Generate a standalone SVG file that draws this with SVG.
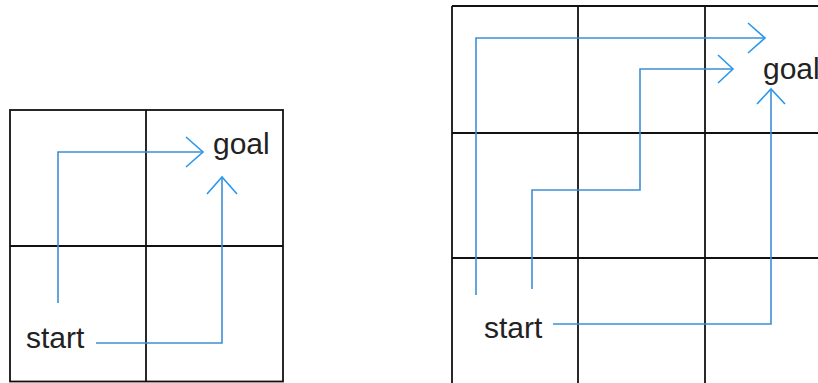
<svg xmlns="http://www.w3.org/2000/svg" width="818" height="383" viewBox="0 0 818 383">
  <style>
    .grid { fill: none; stroke: #111; stroke-width: 1.8; }
    .path { fill: none; stroke: #3d8fd6; stroke-width: 1.6; }
    .lbl { font-family: "Liberation Sans", Arial, sans-serif; font-size: 30px; fill: #222; }
  </style>
  <defs>
    <marker id="chev" markerUnits="userSpaceOnUse" markerWidth="40" markerHeight="40" viewBox="-20 -20 40 40" refX="0" refY="0" orient="auto" overflow="visible">
      <path d="M-17,-15 L0,0 L-17,15" fill="none" stroke="#2a97ee" stroke-width="1.6"/>
    </marker>
    <marker id="chev-s" markerUnits="userSpaceOnUse" markerWidth="40" markerHeight="40" viewBox="-20 -20 40 40" refX="0" refY="0" orient="auto" overflow="visible">
      <path d="M-15,-14 L0,0 L-15,14" fill="none" stroke="#2a97ee" stroke-width="1.6"/>
    </marker>
  </defs>
  <rect width="818" height="383" fill="#fff"/>

  <g id="grid-left" class="grid">
    <rect x="10" y="110" width="273" height="271.5"/>
    <line x1="146" y1="110" x2="146" y2="381.5"/>
    <line x1="10" y1="246" x2="283" y2="246"/>
  </g>

  <g id="grid-right" class="grid">
    <line x1="452" y1="6" x2="818" y2="6"/>
    <line x1="452" y1="133" x2="818" y2="133"/>
    <line x1="452" y1="258" x2="818" y2="258"/>
    <line x1="452" y1="6" x2="452" y2="383"/>
    <line x1="578" y1="6" x2="578" y2="383"/>
    <line x1="705" y1="6" x2="705" y2="383"/>
  </g>

  <g id="connectors" class="path">
    <path d="M58,303 V152 H203" marker-end="url(#chev)"/>
    <path d="M96,343 H222 V177" marker-end="url(#chev)"/>
    <path d="M476,295 V38 H765" marker-end="url(#chev)"/>
    <path d="M532,289 V190 H640 V69 H733" marker-end="url(#chev-s)"/>
    <path d="M553,324 H771 V89" marker-end="url(#chev-s)"/>
  </g>

  <g id="goal-left"><text class="lbl" x="213" y="154">goal</text></g>
  <g id="start-left"><text class="lbl" x="26" y="348">start</text></g>
  <g id="goal-right"><text class="lbl" x="763" y="79">goal</text></g>
  <g id="start-right"><text class="lbl" x="484" y="338">start</text></g>
</svg>
